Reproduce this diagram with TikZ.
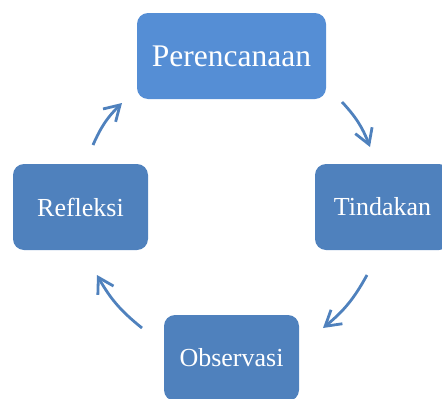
\documentclass[tikz,border=0pt]{standalone}
\usepackage{fontspec}
\setmainfont{Liberation Serif}
\usetikzlibrary{arrows.meta}
\definecolor{boxA}{HTML}{558ED5}
\definecolor{boxB}{HTML}{4F81BD}
\definecolor{arrc}{HTML}{4F81BD}
\tikzset{
  stagebox/.style={fill=boxB, rounded corners=11pt, text=white, inner sep=0pt,
    minimum width=135pt, minimum height=86pt, font=\fontsize{26}{30}\selectfont},
  topbox/.style={stagebox, fill=boxA, minimum width=189pt, font=\fontsize{31.5}{36}\selectfont},
  cyc/.style={draw=arrc, line width=2.8pt, bend left=11,
    -{Straight Barb[length=15pt,width=18pt,line width=2.8pt]}}
}
\begin{document}
\begin{tikzpicture}[x=1pt,y=-1pt]
\useasboundingbox (0,0) rectangle (442,399);
\clip (0,0) rectangle (442,399);
\node[topbox] (plan) at (231.5,56) {Perencanaan};
\node[stagebox] (refl) at (80.5,207) {Refleksi};
\node[stagebox] (act) at (382.5,207) {Tindakan};
\node[stagebox] (obs) at (231.5,358) {Observasi};
\coordinate (a1) at (93,145);
\coordinate (a2) at (122,103);
\coordinate (b1) at (342,102);
\coordinate (b2) at (370,147);
\coordinate (c1) at (367,275);
\coordinate (c2) at (323,328);
\coordinate (d1) at (142,328);
\coordinate (d2) at (97,275);
\draw[cyc] (a1) to (a2);
\draw[cyc] (b1) to (b2);
\draw[cyc] (c1) to (c2);
\draw[cyc] (d1) to (d2);
\end{tikzpicture}
\end{document}
